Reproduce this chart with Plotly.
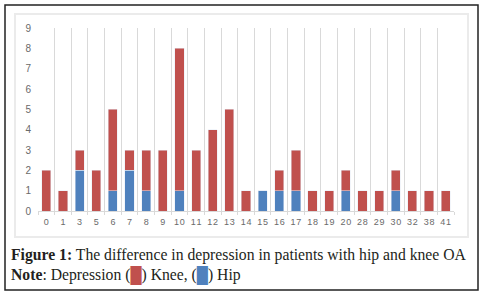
import plotly.graph_objects as go

categories = ["0", "1", "3", "5", "6", "7", "8", "9", "10", "11", "12", "13", "14",
              "15", "16", "17", "18", "19", "20", "28", "29", "30", "32", "38", "41"]
hip = [0, 0, 2, 0, 1, 2, 1, 0, 1, 0, 0, 0, 0, 1, 1, 1, 0, 0, 1, 0, 0, 1, 0, 0, 0]
knee = [2, 1, 1, 2, 4, 1, 2, 3, 7, 3, 4, 5, 1, 0, 1, 2, 1, 1, 1, 1, 1, 1, 1, 1, 1]
y_ticks = list(range(0, 10))

RED = "#C0504D"
BLUE = "#4F81BD"

W, H = 482, 295
L, R, T, B = 38, 28, 28, 84
PW, PH = W - L - R, H - T - B


def px(x):
    return (x - L) / PW


def py(y):
    return (H - B - y) / PH


tick_text = ["\u200a".join(list(c)) for c in categories]

fig = go.Figure()
fig.add_bar(x=categories, y=hip, name="Hip", marker_color=BLUE, width=0.55)
fig.add_bar(x=categories, y=knee, name="Knee", marker_color=RED, width=0.55)

fig.update_layout(
    width=W, height=H, barmode="stack", showlegend=False,
    margin=dict(l=L, r=R, t=T, b=B, autoexpand=False),
    paper_bgcolor="white", plot_bgcolor="white",
    font=dict(family="Liberation Sans", size=10, color="#595959"),
    xaxis=dict(type="category", range=[-0.5, len(categories) - 0.5],
               tickson="boundaries", showgrid=True, gridcolor="#D9D9D9", gridwidth=1,
               ticks="outside", ticklen=3, tickcolor="#D9D9D9",
               showline=True, linecolor="#D9D9D9", tickangle=0, automargin=False,
               tickvals=categories, ticktext=tick_text, ticklabelstandoff=2,
               tickfont=dict(size=9, color="#6A6A6A")),
    yaxis=dict(range=[0, 9], tickvals=y_ticks, showgrid=False, automargin=False,
               zeroline=False, showline=False, ticklabelstandoff=6,
               tickfont=dict(size=10, color="#6A6A6A")),
    shapes=[
        dict(type="rect", xref="paper", yref="paper",
             x0=px(15), x1=px(468), y0=py(237), y1=py(14),
             line=dict(color="#EBEBEB", width=2), layer="below"),
        dict(type="rect", xref="paper", yref="paper",
             x0=px(5), x1=px(478), y0=py(290), y1=py(5),
             line=dict(color="#222222", width=1.5)),
    ],
    annotations=[
        dict(xref="paper", yref="paper", x=px(9), y=py(255), xanchor="left", yanchor="middle",
             showarrow=False,
             text="<b>Figure 1:</b> The difference in depression in patients with hip and knee OA",
             font=dict(family="Liberation Serif", size=15.7, color="#231F20")),
        dict(xref="paper", yref="paper", x=px(9), y=py(275), xanchor="left", yanchor="middle",
             showarrow=False,
             text=("<b>Note</b>: Depression (<span style='color:%s'>\u2588</span>) Knee, "
                   "(<span style='color:%s'>\u2588</span>) Hip") % (RED, BLUE),
             font=dict(family="Liberation Serif", size=15.7, color="#231F20")),
    ],
)

fig.write_html("out.html", config={"displayModeBar": False},
               post_script="document.body.style.margin='0';")
